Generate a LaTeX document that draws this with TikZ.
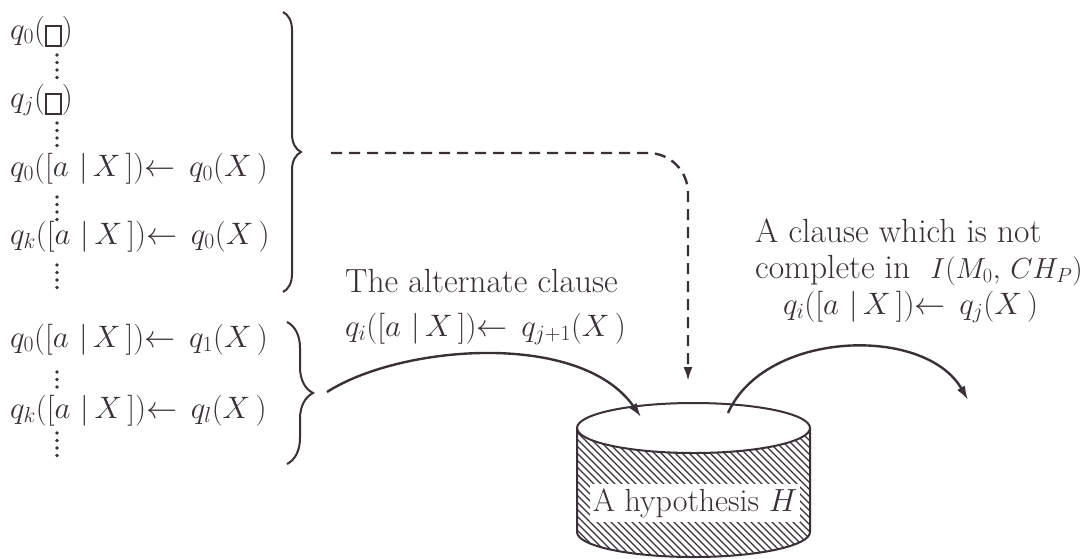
\RequirePackage{fix-cm}
\documentclass[tikz,border=0pt]{standalone}
\usepackage{fontspec}
\usetikzlibrary{decorations.pathreplacing,arrows.meta}
\definecolor{ink}{RGB}{58,48,56}
\newcommand{\nilbox}{\raisebox{-6pt}{\setlength{\fboxsep}{0pt}\setlength{\fboxrule}{1.9pt}\fbox{\rule{0pt}{18pt}\hspace{13pt}}}}
\newcommand{\larr}{\mathord{\leftarrow}\;\,}
\tikzset{
  formula/.style={anchor=base west, inner sep=0pt, text=ink, font=\fontsize{31}{36}\selectfont},
  label/.style={anchor=base west, inner sep=0pt, text=ink, font=\fontsize{33.5}{38}\selectfont},
  vdotsline/.style={ink, line width=3.8pt, line cap=round, dash pattern=on 0pt off 7.5pt},
  bracestyle/.style={ink, line width=2pt, decorate, decoration={brace, amplitude=#1}},
  arcarrow/.style={ink, line width=2.4pt, -{Latex[length=14pt,width=9pt]}},
  dasharrow/.style={ink, line width=2.4pt, dash pattern=on 11pt off 7pt, rounded corners=40pt, -{Latex[length=14pt,width=9pt]}},
  hatchline/.style={ink, line width=1.1pt},
  cylline/.style={ink, line width=2pt},
}
\begin{document}
\begin{tikzpicture}[x=1pt,y=-1pt]
\useasboundingbox (0,0) rectangle (1089,558);
\fill[white] (0,0) rectangle (1089,558);

% left column
\node[formula] (l1) at (10,39) {$q_0(\nilbox)$};
\draw[vdotsline] (57,55) -- (57,78);
\node[formula] (l2) at (10,107) {$q_j(\nilbox)$};
\draw[vdotsline] (57,123) -- (57,147);
\node[formula] (l3) at (10,176) {$q_0([a\,\,|\,X\,])\larr q_0(X\,)$};
\draw[vdotsline] (57,197) -- (57,220);
\node[formula] (l4) at (10,244) {$q_k([a\,\,|\,X\,])\larr q_0(X\,)$};
\draw[vdotsline] (57,265) -- (57,288);
\node[formula] (l5) at (10,347) {$q_0([a\,\,|\,X\,])\larr q_1(X\,)$};
\draw[vdotsline] (57,372) -- (57,388);
\node[formula] (l6) at (10,418) {$q_k([a\,\,|\,X\,])\larr q_l(X\,)$};
\draw[vdotsline] (57,433) -- (57,457);

% braces
\draw[bracestyle=18] (283,12) -- (283,292);
\coordinate (b1tip) at (301,152);
\draw[bracestyle=26] (287,322) -- (287,464);
\coordinate (b2tip) at (313,393);

% cylinder (hypothesis H)
\begin{scope}
  \clip (577,428) -- (577,532) arc[start angle=180, end angle=0, x radius=116.5, y radius=25]
        -- (810,428) arc[start angle=0, end angle=180, x radius=116.5, y radius=25] -- cycle;
  \foreach \x in {380,387,...,820} \draw[hatchline] (\x,410) -- ++(170,170);
\end{scope}
\draw[cylline] (693.5,428) ellipse[x radius=116.5, y radius=25];
\draw[cylline] (577,428) -- (577,532) arc[start angle=180, end angle=0, x radius=116.5, y radius=25] -- (810,428);
\node[label, anchor=base, fill=white, inner xsep=3pt, inner ysep=4pt, font=\fontsize{32}{36}\selectfont] (hyp) at (695,511) {A hypothesis $H$};
\coordinate (cylin) at (641,417);
\coordinate (cylout) at (728,413);
\coordinate (dashend) at (688,381);

% dashed arrow
\coordinate (dstart) at (331,153);
\draw[dasharrow] (dstart) -- (688,153) -- (dashend);

% alternate clause
\node[label] (alt) at (345,292) {The alternate clause};
\node[formula] (altf) at (345,336) {$q_i([a\,\,|\,X\,])\larr q_{j+1}(X\,)$};
\coordinate (a1s) at (327,392);
\draw[arcarrow] (a1s) .. controls (400,345) and (580,330) .. (cylin);

% not complete clause
\node[label] (nc1) at (755,242) {A clause which is not};
\node[label] (nc2) at (755,278) {complete in \ {\fontsize{29}{34}\selectfont$I(M_0,\, CH_P)$}};
\node[formula] (nc3) at (783,314) {$q_i([a\,\,|\,X\,])\larr q_j(X\,)$};
\coordinate (a2e) at (968,400);
\draw[arcarrow] (cylout) .. controls (765,330) and (925,325) .. (a2e);
\end{tikzpicture}
\end{document}
